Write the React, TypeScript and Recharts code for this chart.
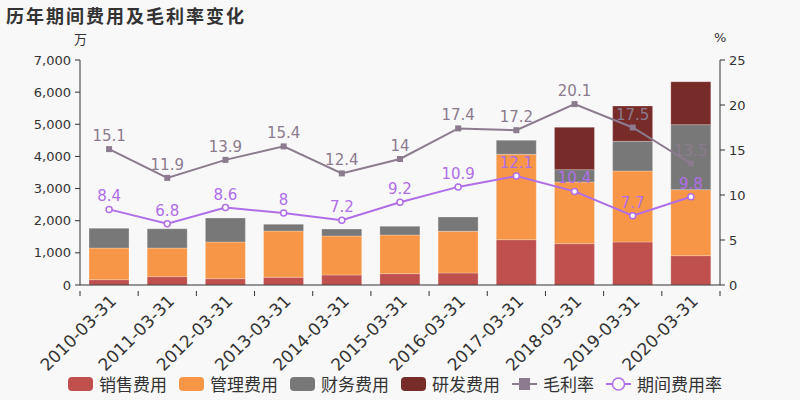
import React from 'react';
import {
    ComposedChart,
    Bar,
    Line,
    XAxis,
    YAxis,
    LabelList,
} from 'recharts';

// categories
const dates = [
    '2010-03-31', '2011-03-31', '2012-03-31', '2013-03-31', '2014-03-31', '2015-03-31',
    '2016-03-31', '2017-03-31', '2018-03-31', '2019-03-31', '2020-03-31',
];

// expense series (万)
const sales = [165, 260, 196, 240, 311, 352, 373, 1410, 1286, 1338, 913];
const admin = [985, 890, 1142, 1440, 1213, 1204, 1297, 2656, 1918, 2209, 2053];
const finance = [615, 600, 746, 208, 218, 270, 446, 436, 384, 923, 2022];
const research = [0, 0, 0, 0, 0, 0, 0, 0, 1318, 1099, 1338];

// rates (%)
const grossMargin = [15.1, 11.9, 13.9, 15.4, 12.4, 14, 17.4, 17.2, 20.1, 17.5, 13.5];
const expenseRate = [8.4, 6.8, 8.6, 8, 7.2, 9.2, 10.9, 12.1, 10.4, 7.7, 9.8];

const leftTicks = [0, 1000, 2000, 3000, 4000, 5000, 6000, 7000];
const rightTicks = [0, 5, 10, 15, 20, 25];

const C_SALES = '#c0504d';
const C_ADMIN = '#f79646';
const C_FIN = '#787878';
const C_RD = '#772c2a';
const C_GM = '#8c7b8e';
const C_ER = '#b06ee8';

const FONT = '"DejaVu Sans", "Noto Sans CJK SC", sans-serif';
const CJK = '"Noto Sans CJK SC", "DejaVu Sans", sans-serif';
const AXIS = '#333';

const data = dates.map((d, i) => ({
    date: d,
    sales: sales[i],
    admin: admin[i],
    finance: finance[i],
    research: research[i],
    gm: grossMargin[i],
    er: expenseRate[i],
}));

const PLOT_LEFT = 80;
const PLOT_RIGHT = 720;
const HALF_BAND = (PLOT_RIGHT - PLOT_LEFT) / dates.length / 2;

const XTick = (props: any) => {
    const { x, y, payload, index } = props;
    const last = index === dates.length - 1;
    return (
        <g>
            <line x1={x - HALF_BAND} x2={x - HALF_BAND} y1={y - 2} y2={y + 3} stroke={AXIS} />
            {last && <line x1={x + HALF_BAND} x2={x + HALF_BAND} y1={y - 2} y2={y + 3} stroke={AXIS} />}
            <text
                transform={`translate(${x + 4},${y + 5}) rotate(-45)`}
                textAnchor="end"
                dy="0.35em"
                fontSize={17}
                fill={AXIS}
                fontFamily={FONT}
            >
                {payload.value}
            </text>
        </g>
    );
};

const SquareDot = (props: any) => {
    const { cx, cy } = props;
    if (cx == null || cy == null) return null;
    return <rect x={cx - 3} y={cy - 3} width={6} height={6} fill={C_GM} />;
};

const legendItems = [
    { name: '销售费用', color: C_SALES, type: 'bar' },
    { name: '管理费用', color: C_ADMIN, type: 'bar' },
    { name: '财务费用', color: C_FIN, type: 'bar' },
    { name: '研发费用', color: C_RD, type: 'bar' },
    { name: '毛利率', color: C_GM, type: 'square' },
    { name: '期间费用率', color: C_ER, type: 'circle' },
];

const LegendIcon: React.FC<{ type: string; color: string }> = ({ type, color }) => {
    if (type === 'bar') {
        return (
            <svg width={25} height={16} style={{ marginRight: 6 }}>
                <rect x={0} y={1} width={25} height={14} rx={4} fill={color} />
            </svg>
        );
    }
    return (
        <svg width={25} height={16} style={{ marginRight: 6 }}>
            <line x1={0} x2={25} y1={8} y2={8} stroke={color} strokeWidth={2} />
            {type === 'square'
                ? <rect x={7} y={2} width={11} height={12} fill={color} />
                : <circle cx={12.5} cy={8} r={6} fill="#fff" stroke={color} strokeWidth={1.5} />}
        </svg>
    );
};

export default function App() {
    return (
        <div style={{ position: 'absolute', left: 0, top: 0, width: 800, height: 400, background: '#f8f8f8', fontFamily: CJK }}>
            <div style={{ position: 'absolute', left: 6, top: 2, fontSize: 18, fontWeight: 'bold', color: '#333', letterSpacing: 2 }}>
                历年期间费用及毛利率变化
            </div>
            <div style={{ position: 'absolute', left: 74, top: 29, fontSize: 13, color: '#333' }}>万</div>
            <div style={{ position: 'absolute', left: 714, top: 30, fontSize: 13, color: '#333', fontFamily: FONT }}>%</div>
            <ComposedChart
                width={800}
                height={400}
                data={data}
                margin={{ top: 60, right: 0, bottom: 35, left: 0 }}
                barCategoryGap={18}
            >
                <XAxis
                    dataKey="date"
                    interval={0}
                    height={80}
                    tickLine={false}
                    axisLine={{ stroke: AXIS }}
                    tick={<XTick />}
                />
                <YAxis
                    yAxisId="left"
                    width={80}
                    domain={[0, 7000]}
                    ticks={leftTicks}
                    tickFormatter={(v: number) => v.toLocaleString('en-US')}
                    tick={{ fontSize: 13, fill: AXIS, fontFamily: FONT }}
                    axisLine={{ stroke: AXIS }}
                    tickLine={{ stroke: AXIS }}
                    tickSize={5}
                    tickMargin={4}
                />
                <YAxis
                    yAxisId="right"
                    orientation="right"
                    width={80}
                    domain={[0, 25]}
                    ticks={rightTicks}
                    tick={{ fontSize: 13, fill: AXIS, fontFamily: FONT }}
                    axisLine={{ stroke: AXIS }}
                    tickLine={{ stroke: AXIS }}
                    tickSize={5}
                    tickMargin={4}
                />
                <Bar yAxisId="left" dataKey="sales" stackId="a" fill={C_SALES} barSize={40} stroke="rgba(255,255,255,0.25)" isAnimationActive={false} />
                <Bar yAxisId="left" dataKey="admin" stackId="a" fill={C_ADMIN} barSize={40} stroke="rgba(255,255,255,0.25)" isAnimationActive={false} />
                <Bar yAxisId="left" dataKey="finance" stackId="a" fill={C_FIN} barSize={40} stroke="rgba(255,255,255,0.25)" isAnimationActive={false} />
                <Bar yAxisId="left" dataKey="research" stackId="a" fill={C_RD} barSize={40} stroke="rgba(255,255,255,0.25)" isAnimationActive={false} />
                <Line
                    yAxisId="right"
                    dataKey="gm"
                    stroke={C_GM}
                    strokeWidth={2}
                    dot={<SquareDot />}
                    activeDot={false}
                    isAnimationActive={false}
                >
                    <LabelList dataKey="gm" position="top" offset={8} fill={C_GM} fontSize={15} fontFamily={FONT} />
                </Line>
                <Line
                    yAxisId="right"
                    dataKey="er"
                    stroke={C_ER}
                    strokeWidth={2}
                    dot={{ r: 3, fill: '#fff', stroke: C_ER, strokeWidth: 1.5 }}
                    activeDot={false}
                    isAnimationActive={false}
                >
                    <LabelList dataKey="er" position="top" offset={8} fill={C_ER} fontSize={15} fontFamily={FONT} />
                </Line>
            </ComposedChart>
            <div style={{
                position: 'absolute', left: 68, top: 374, display: 'flex',
                alignItems: 'center', fontSize: 17, lineHeight: '20px', color: '#333', whiteSpace: 'nowrap',
            }}>
                {legendItems.map((it) => (
                    <div key={it.name} style={{ display: 'flex', alignItems: 'center', marginRight: 12 }}>
                        <LegendIcon type={it.type} color={it.color} />
                        <span>{it.name}</span>
                    </div>
                ))}
            </div>
        </div>
    );
}
